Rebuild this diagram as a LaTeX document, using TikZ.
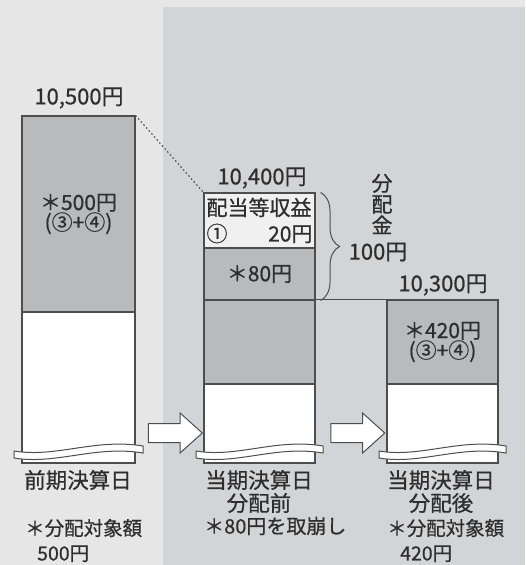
\documentclass[tikz,border=0pt]{standalone}
\usepackage{fontspec}
\setmainfont{Noto Sans CJK JP}[BoldFont={Noto Sans CJK JP}, BoldFeatures={FakeBold=0.6}]
\usetikzlibrary{shapes.arrows, decorations.pathreplacing}

\definecolor{bgleft}{HTML}{E6E6E6}
\definecolor{bgright}{HTML}{D2D5D8}
\definecolor{bargray}{HTML}{B8BABC}
\definecolor{incfill}{HTML}{F0F0F0}
\definecolor{linegray}{HTML}{4D4D4D}
\definecolor{textgray}{HTML}{2E2E2E}

\tikzset{
  barpart/.style={draw=linegray, line width=1.1pt, inner sep=0pt, align=center,
    font=\fontsize{21}{20}\selectfont\bfseries},
  valuelabel/.style={font=\fontsize{22}{24}\selectfont\bfseries},
  daylabel/.style={align=center, inner sep=0pt, font=\fontsize{21.5}{23}\selectfont\bfseries},
  notelabel/.style={align=left, inner sep=0pt, font=\fontsize{19.5}{25}\selectfont\bfseries},
  dotline/.style={draw=linegray, line width=1.2pt, dash pattern=on 1.5pt off 2.5pt},
  movearrow/.style={single arrow, draw=linegray, fill=white, line width=1pt,
    minimum height=54pt, inner xsep=0pt, inner ysep=9pt,
    single arrow head extend=10.5pt, single arrow tip angle=84},
  breakband/.style={draw=linegray, fill=white, line width=1pt},
  bracemark/.style={draw=linegray, line width=1pt, decorate,
    decoration={brace, amplitude=19pt}}
}

\begin{document}
\begin{tikzpicture}[x=1pt, y=-1pt, every node/.style={text=textgray}]
	\useasboundingbox (0,0) rectangle (525,565);
	% backgrounds
	\fill[bgleft] (0,0) rectangle (525,565);
	\fill[bgright] (163,7) rectangle (525,565);

	% previous closing day
	\node[barpart, fill=bargray, minimum width=113pt, minimum height=196pt]
		(prevdist) at (78.5,214) {＊500円\\(③+④)};
	\node[barpart, fill=white, minimum width=113pt, minimum height=151pt]
		(prevrest) at (78.5,387.5) {};

	% current closing day, before distribution
	\node[barpart, fill=incfill, minimum width=111pt, minimum height=55pt,
		text width=106pt, align=left, font=\fontsize{21}{26}\selectfont\bfseries]
		(midinc) at (259.5,220.5) {配当等収益\\①\hfill 20円};
	\node[barpart, fill=bargray, minimum width=111pt, minimum height=52pt]
		(midfund) at (259.5,274) {＊80円};
	\node[barpart, fill=bargray, minimum width=111pt, minimum height=84pt]
		(midbase) at (259.5,342) {};
	\node[barpart, fill=white, minimum width=111pt, minimum height=79pt]
		(midrest) at (259.5,423.5) {};

	% current closing day, after distribution
	\node[barpart, fill=bargray, minimum width=111pt, minimum height=84pt]
		(nextdist) at (442.5,342) {＊420円\\(③+④)};
	\node[barpart, fill=white, minimum width=111pt, minimum height=79pt]
		(nextrest) at (442.5,423.5) {};

	% break marks
	\foreach \xa/\xb in {22/135, 204/315, 387/498} {
		\draw[breakband] ({\xa-8},451) .. controls ({\xa+0.3*(\xb-\xa)},458)
			and ({\xa+0.65*(\xb-\xa)},438) .. ({\xb+8},446)
			-- ({\xb+8},453) .. controls ({\xa+0.65*(\xb-\xa)},445)
			and ({\xa+0.3*(\xb-\xa)},465) .. ({\xa-8},458) -- cycle;
	}

	% totals
	\node[valuelabel] (prevtotal) at (79,98) {10,500円};
	\node[valuelabel] (midtotal) at (262,178) {10,400円};
	\node[valuelabel] (nexttotal) at (443,285) {10,300円};

	\draw[dotline] (prevdist.north east) -- (midinc.north west);
	\draw[draw=linegray, line width=1.1pt] (midbase.north east) -- (nextdist.north west);

	% distribution
	\draw[bracemark] ([xshift=5pt]midinc.north east) -- ([xshift=5pt]midfund.south east);
	\node[align=center, font=\fontsize{21}{21}\selectfont\bfseries] (fundword) at (382,204) {分\\配\\金};
	\node[valuelabel] (fundsum) at (378,252) {100円};

	\node[movearrow] (arrowa) at (170,433) {};
	\node[movearrow] (arrowb) at (352.5,433) {};

	% captions
	\node[daylabel] (prevday) at (78,480) {前期決算日};
	\node[notelabel, anchor=west] (prevnote) at (25,540.5) {＊分配対象額\\\hspace*{12pt}500円};
	\node[daylabel] (midday) at (259,491.5) {当期決算日\\分配前};
	\node[notelabel, anchor=west, font=\fontsize{20}{25}\selectfont\bfseries] (midnote) at (204,526) {＊80円を取崩し};
	\node[daylabel] (nextday) at (441,491.5) {当期決算日\\分配後};
	\node[notelabel, anchor=west] (nextnote) at (387,540.5) {＊分配対象額\\\hspace*{13pt}420円};
\end{tikzpicture}
\end{document}
